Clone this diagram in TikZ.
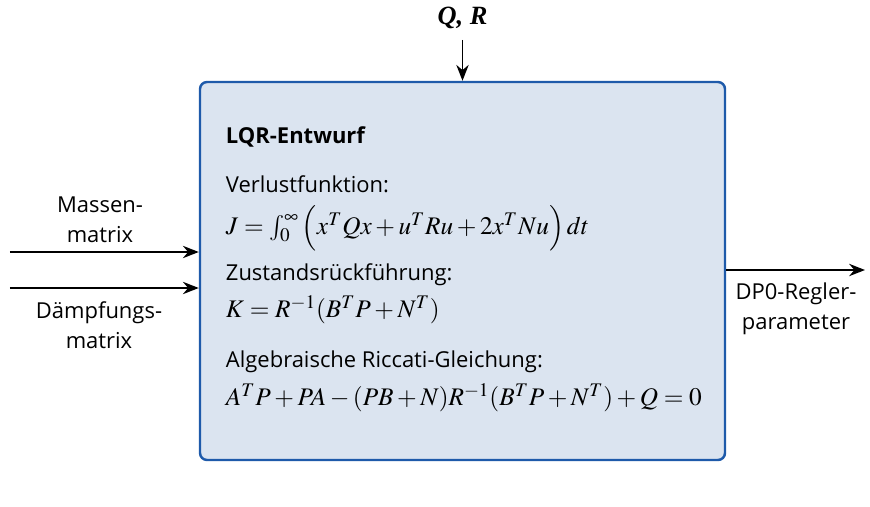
\documentclass[tikz,border=0pt]{standalone}
\usepackage{mathptmx}
\usepackage{amsmath}
\usepackage[no-math]{fontspec}
\setmainfont{Open Sans}
\newfontfamily\symfont{Liberation Serif}
\usetikzlibrary{positioning, arrows.meta}

\definecolor{lqrblue}{RGB}{30,90,170}
\definecolor{lqrfill}{RGB}{219,228,240}

\begin{document}
\begin{tikzpicture}[>={Stealth[length=9pt,width=7pt]}, line width=1.1pt,
    font=\fontsize{12.5}{17}\selectfont,
    lbl/.style={align=center, inner sep=0pt},
    txt/.style={anchor=west, inner sep=0pt},
    eq/.style={txt, font=\fontsize{14.4}{17}\selectfont}]
  \useasboundingbox (0,0) rectangle (17.4,10.12);
  \node[draw=lqrblue, fill=lqrfill, line width=1.4pt, rounded corners=4pt,
        minimum width=10.5cm, minimum height=7.56cm] (lqr) at (9.25,4.7) {};
  \node[txt, font=\fontsize{12.5}{17}\selectfont\bfseries] (title) at (4.5,7.38) {LQR-Entwurf};
  \node[txt] (loss) at (4.5,6.44) {Verlustfunktion:};
  \node[eq] (losseq) at (4.5,5.56)
    {$J=\int_0^\infty \Big(x^TQx+u^TRu+2x^TNu\Big)\,dt$};
  \node[txt] (fb) at (4.5,4.62) {Zustandsrückführung:};
  \node[eq] (fbeq) at (4.5,3.92) {$K=R^{-1}(B^TP+N^T)$};
  \node[txt] (are) at (4.5,2.88) {Algebraische Riccati-Gleichung:};
  \node[eq] (areeq) at (4.5,2.16) {$A^TP+PA-(PB+N)R^{-1}(B^TP+N^T)+Q=0$};
  % inputs and output
  \node[lbl, font=\fontsize{15}{17}\symfont\bfseries\itshape] (qr) at (9.25,9.76) {Q, R};
  \draw[->, shorten <=0.2cm] (qr) -- (lqr.north);
  \coordinate (m0) at (0.2,5.08);
  \coordinate (d0) at (0.2,4.36);
  \coordinate (p1) at (17.3,4.72);
  \draw[->] (m0) -- (m0 -| lqr.west);
  \draw[->] (d0) -- (d0 -| lqr.west);
  \draw[->] (lqr.east |- p1) -- (p1);
  \node[lbl] (mass) at (2.0,5.72) {Massen-\\matrix};
  \node[lbl] (damp) at (1.98,3.62) {Dämpfungs-\\matrix};
  \node[lbl] (param) at (15.92,3.94) {DP0-Regler-\\parameter};
\end{tikzpicture}
\end{document}
